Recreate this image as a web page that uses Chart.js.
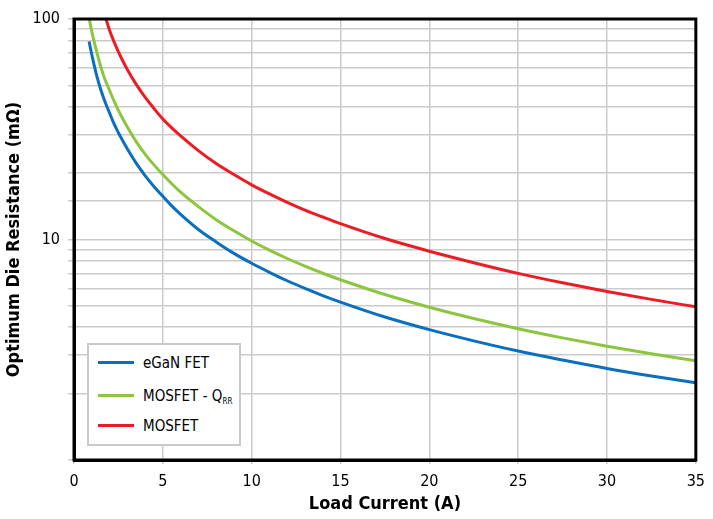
<!DOCTYPE html>
<html>
<head>
<meta charset="utf-8">
<script src="https://cdn.jsdelivr.net/npm/chart.js@4.4.0/dist/chart.umd.min.js"></script>
<style>
html, body { margin: 0; padding: 0; background: #fff; }
#wrap { position: relative; width: 713px; height: 519px; }
#legend {
  position: absolute; left: 87px; top: 343px; width: 150px; height: 99px;
  border: 2px solid #c9c9c9; background: #fff;
  font-family: 'Liberation Sans Narrow', 'DejaVu Sans Condensed', sans-serif;
  font-size: 15px; color: #000;
}
.item { position: absolute; left: 9px; height: 20px; line-height: 20px; white-space: nowrap; }
.swatch { display: inline-block; width: 36px; height: 3px; vertical-align: middle; margin-right: 9px; margin-top: -2px; }
sub { font-size: 8px; vertical-align: -3px; }
</style>
</head>
<body>
<div id="wrap">
  <canvas id="chart" width="713" height="519"></canvas>
  <div id="legend"></div>
</div>
<script>
// values (x = load current A, y = resistance mOhm)
var ganX = [0.85, 1, 1.15, 1.3, 1.5, 1.75, 2, 2.25, 2.5, 2.75, 3, 3.5, 4, 4.5, 5, 5.5, 6, 7, 8, 9, 10, 11, 12, 13, 14, 15, 17.5, 20, 22.5, 25, 27.5, 30, 32.5, 35];
var ganY = [79, 69, 61, 54.5, 48, 42, 37.5, 33.5, 30.5, 28, 25.8, 22.2, 19.5, 17.4, 15.7, 14.2, 13.0, 11.1, 9.75, 8.65, 7.8, 7.1, 6.5, 6.0, 5.57, 5.2, 4.45, 3.9, 3.47, 3.12, 2.84, 2.6, 2.405, 2.24];
var qrrX = [0.86, 1, 1.15, 1.3, 1.5, 1.75, 2, 2.25, 2.5, 2.75, 3, 3.5, 4, 4.5, 5, 5.5, 6, 7, 8, 9, 10, 11, 12, 13, 14, 15, 17.5, 20, 22.5, 25, 27.5, 30, 32.5, 35];
var qrrY = [100, 88, 78, 70, 61, 53, 47.5, 42.5, 38.5, 35.2, 32.4, 27.8, 24.4, 21.8, 19.7, 17.9, 16.4, 14.1, 12.3, 10.95, 9.85, 8.95, 8.2, 7.57, 7.03, 6.57, 5.63, 4.93, 4.38, 3.94, 3.58, 3.28, 3.03, 2.82];
var mosX = [1.8, 2, 2.25, 2.5, 2.75, 3, 3.5, 4, 4.5, 5, 5.5, 6, 7, 8, 9, 10, 11, 12, 13, 14, 15, 17.5, 20, 22.5, 25, 27.5, 30, 32.5, 35];
var mosY = [100, 89, 79, 71, 64.5, 59, 50.5, 44.2, 39.3, 35.2, 32.1, 29.5, 25.3, 22.1, 19.7, 17.7, 16.1, 14.75, 13.6, 12.65, 11.8, 10.1, 8.85, 7.85, 7.02, 6.36, 5.81, 5.35, 4.95];
var seriesNames = ['eGaN FET', 'MOSFET - Q_RR', 'MOSFET'];
var seriesColors = ['#0a6fbf', '#8cc63e', '#ec1c24'];
var xTicks = [0, 5, 10, 15, 20, 25, 30, 35];
var yLabels = [10, 100];

var FONT = "'Liberation Sans Narrow', 'DejaVu Sans Condensed', sans-serif";

function pairs(xs, ys) {
  var out = [];
  for (var i = 0; i < xs.length; i++) out.push({x: xs[i], y: ys[i]});
  return out;
}

var frame = {
  id: 'frame',
  afterDatasetsDraw: function(chart) {
    var a = chart.chartArea, c = chart.ctx;
    c.save();
    c.strokeStyle = '#000';
    c.lineWidth = 3;
    c.strokeRect(a.left, a.top, a.right - a.left, a.bottom - a.top);
    c.restore();
  }
};

var sets = [pairs(ganX, ganY), pairs(qrrX, qrrY), pairs(mosX, mosY)];

var chart = new Chart(document.getElementById('chart'), {
  type: 'line',
  data: {
    datasets: sets.map(function(d, i) {
      return {
        label: seriesNames[i].replace('_', ''),
        data: d,
        borderColor: seriesColors[i],
        borderWidth: 3,
        pointRadius: 0,
        cubicInterpolationMode: 'monotone',
        fill: false
      };
    })
  },
  options: {
    responsive: false,
    animation: false,
    layout: { padding: { top: 19, right: 16, left: 0, bottom: 0 } },
    plugins: { legend: { display: false }, tooltip: { enabled: false } },
    scales: {
      x: {
        type: 'linear', min: 0, max: 35,
        afterBuildTicks: function(s) { s.ticks = xTicks.map(function(v) { return {value: v}; }); },
        ticks: { color: '#000', font: { family: FONT, size: 16 }, padding: 8 },
        grid: { color: '#cbcbcb', lineWidth: 1.5, tickLength: 4 },
        border: { color: '#000', width: 3 },
        title: { display: true, text: 'Load Current (A)', color: '#000',
                 font: { family: FONT, size: 18, weight: 'bold' }, padding: { top: 3, bottom: 4 } },
        afterFit: function(s) { s.height = 59; }
      },
      y: {
        type: 'logarithmic', min: 1, max: 100,
        ticks: {
          autoSkip: false, color: '#000', font: { family: FONT, size: 16 }, padding: 8,
          callback: function(v) { return yLabels.indexOf(v) >= 0 ? String(v) : ''; }
        },
        grid: { color: '#cbcbcb', lineWidth: 1.5, tickLength: 6 },
        border: { color: '#000', width: 3 },
        title: { display: true, text: 'Optimum Die Resistance (mΩ)', color: '#000',
                 font: { family: FONT, size: 18, weight: 'bold' }, padding: { top: 4, bottom: 4 } },
        afterFit: function(s) { s.width = 74; }
      }
    }
  },
  plugins: [frame]
});

// legend box inside the plot
var leg = document.getElementById('legend');
var tops = [8, 41, 71];
seriesNames.forEach(function(name, i) {
  var parts = name.split('_');
  var html = '<span class="swatch" style="background:' + seriesColors[i] + '"></span>' + parts[0];
  if (parts[1]) html += '<sub>' + parts[1] + '</sub>';
  var el = document.createElement('div');
  el.className = 'item';
  el.style.top = tops[i] + 'px';
  el.innerHTML = html;
  leg.appendChild(el);
});
</script>
</body>
</html>
